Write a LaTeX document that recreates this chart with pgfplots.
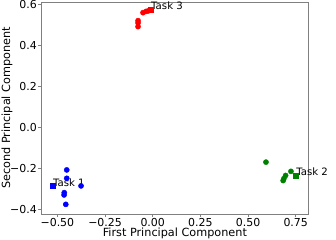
\documentclass[border=0pt]{standalone}
\usepackage{pgfplots}
\pgfplotsset{compat=1.18}
\usepackage{fontspec}
\setmainfont{DejaVu Sans}
\definecolor{mplgreen}{rgb}{0,0.5,0}
\begin{document}
\begin{tikzpicture}[font=\fontsize{10.2}{12}\selectfont]
\useasboundingbox (0,0) rectangle (336bp,240bp);
\begin{axis}[
  at={(41bp,26bp)}, anchor=south west,
  scale only axis, width=267.7bp, height=212bp,
  xmin=-0.586, xmax=0.818, ymin=-0.423, ymax=0.611,
  axis line style={black!50, line width=0.6bp},
  tick style={black!50, line width=0.6bp},
  tick align=outside, major tick length=3bp,
  xtick pos=bottom, ytick pos=left,
  xtick={-0.5,-0.25,0,0.25,0.5,0.75},
  xticklabels={−0.50,−0.25,0.00,0.25,0.50,0.75},
  ytick={-0.4,-0.2,0,0.2,0.4,0.6},
  yticklabels={−0.4,−0.2,0.0,0.2,0.4,0.6},
  ticklabel style={font=\fontsize{11}{13}\selectfont},
  xticklabel style={inner sep=1bp},
  yticklabel style={inner sep=1bp},
  xlabel={First Principal Component},
  ylabel={Second Principal Component},
  label style={font=\fontsize{11.3}{13}\selectfont},
  xlabel style={at={(rel axis cs:0.5,0)}, anchor=center, yshift=-19bp},
  ylabel style={at={(rel axis cs:0,0.5)}, anchor=center, yshift=34bp},
  clip=false,
]
% Task 1 (blue)
\addplot[only marks, mark=*, mark size=2.6bp, color=blue] coordinates {
  (-0.451,-0.208) (-0.451,-0.249) (-0.464,-0.319) (-0.465,-0.330) (-0.456,-0.376) (-0.376,-0.286)
};
\addplot[only marks, mark=square*, mark size=2.5bp, color=blue] coordinates {(-0.524,-0.287)};
% Task 2 (green)
\addplot[only marks, mark=*, mark size=2.6bp, color=mplgreen] coordinates {
  (0.594,-0.170) (0.725,-0.215) (0.697,-0.235) (0.688,-0.250) (0.684,-0.260)
};
\addplot[only marks, mark=square*, mark size=2.5bp, color=mplgreen] coordinates {(0.752,-0.234)};
% Task 3 (red)
\addplot[only marks, mark=*, mark size=2.6bp, color=red] coordinates {
  (-0.051,0.559) (-0.035,0.565) (-0.022,0.568) (-0.077,0.520) (-0.077,0.509) (-0.077,0.491)
};
\addplot[only marks, mark=square*, mark size=2.5bp, color=red] coordinates {(-0.009,0.572)};
\node[anchor=base west, inner sep=0] at (axis cs:-0.524,-0.287) {Task 1};
\node[anchor=base west, inner sep=0] at (axis cs:0.752,-0.234) {Task 2};
\node[anchor=base west, inner sep=0] at (axis cs:-0.009,0.572) {Task 3};
\end{axis}
\end{tikzpicture}
\end{document}
